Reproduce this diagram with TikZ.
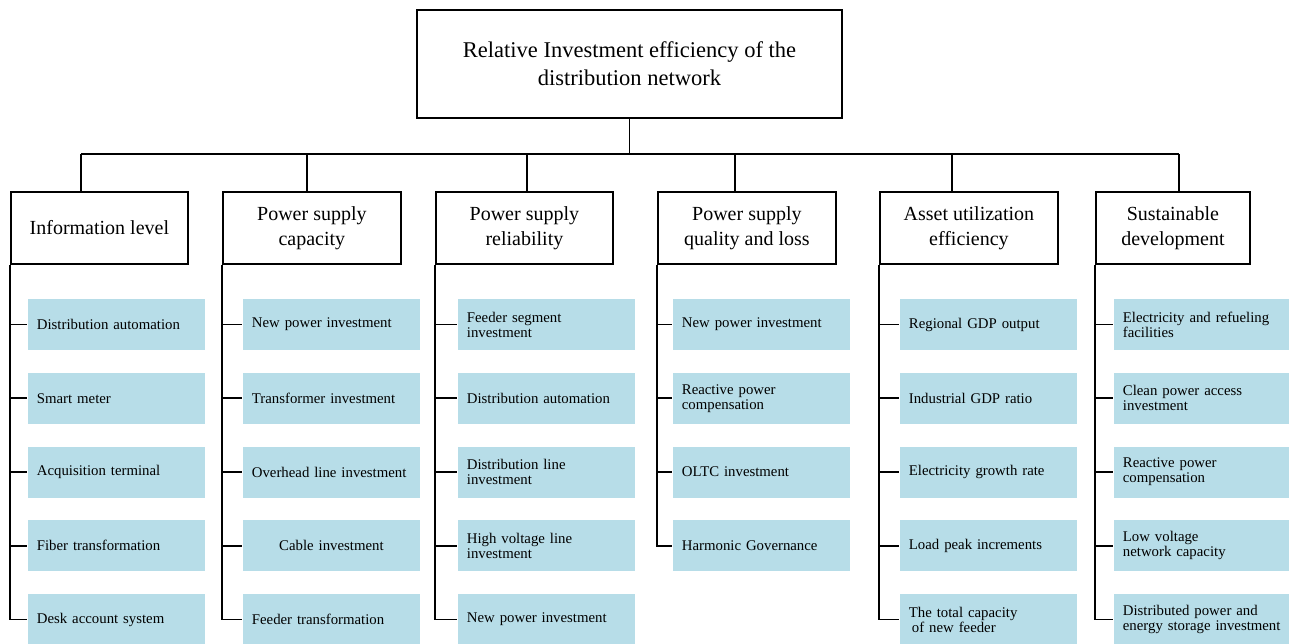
\documentclass[tikz,border=0pt]{standalone}
\usepackage{fontspec}
\setmainfont{Liberation Serif}
\definecolor{itemblue}{RGB}{183,221,232}

\begin{document}
\begin{tikzpicture}[x=1pt, y=-1pt, line width=1.8pt,
  titlebox/.style={draw, minimum width=425pt, minimum height=108pt,
    align=center, font=\fontsize{22.5}{28}\selectfont},
  catbox/.style={draw, anchor=north west, minimum height=72pt, inner sep=0pt,
    align=center, font=\fontsize{20}{25}\selectfont},
  itembox/.style={fill=itemblue, anchor=west, minimum height=51pt,
    text width=159pt, inner xsep=9pt, inner ysep=0pt, align=left,
    font=\fontsize{14.8}{15}\selectfont}]
  \useasboundingbox (0,0) rectangle (1289,644);
  \node[titlebox] (top) at (629.5,64)
    {Relative Investment efficiency of the\\distribution network};
  \foreach \i/\bx/\bw/\sx/\ix/\name/\items in {
    1/10/177/81/27/{Information level}/{Distribution automation, Smart meter,
      Acquisition terminal, Fiber transformation, Desk account system},
    2/222/178/307/242/{Power supply\\capacity}/{New power investment,
      Transformer investment, Overhead line investment,
      \makebox[159pt]{Cable investment}, Feeder transformation},
    3/435/177/527/457/{Power supply\\reliability}/{{Feeder segment\\investment},
      Distribution automation, {Distribution line\\investment},
      {High voltage line\\investment}, New power investment},
    4/657/178/735/672/{Power supply\\quality and loss}/{New power investment,
      {Reactive power\\compensation}, OLTC investment, Harmonic Governance},
    5/879/178/952/899/{Asset utilization\\efficiency}/{Regional GDP output,
      Industrial GDP ratio, Electricity growth rate, Load peak increments,
      {The total capacity\\\hspace*{3pt}of new feeder}},
    6/1095/154/1179/1113/{Sustainable\\development}/{{Electricity and refueling\\facilities},
      {Clean power access\\investment}, {Reactive power\\compensation},
      {Low voltage\\network capacity},
      {Distributed power and\\energy storage investment}}} {
    \node[catbox, minimum width=\bw] (c\i) at (\bx,191) {\name};
    \coordinate (s\i) at (\sx,154);
    \draw (s\i) -- (s\i |- c\i.north);
    \foreach \t [count=\k] in \items {
      \pgfmathsetmacro{\y}{324.5+73.75*(\k-1)}
      \node[itembox] (i\i-\k) at (\ix,\y) {\t};
      \draw (c\i.south west |- i\i-\k.west) -- (i\i-\k.west);
      \xdef\last{\k}
    }
    \draw (c\i.south west) |- (i\i-\last.west);
  }
  \draw (top.south) -- (top.south |- s1);
  \draw (s1) -- (s6);
\end{tikzpicture}
\end{document}
